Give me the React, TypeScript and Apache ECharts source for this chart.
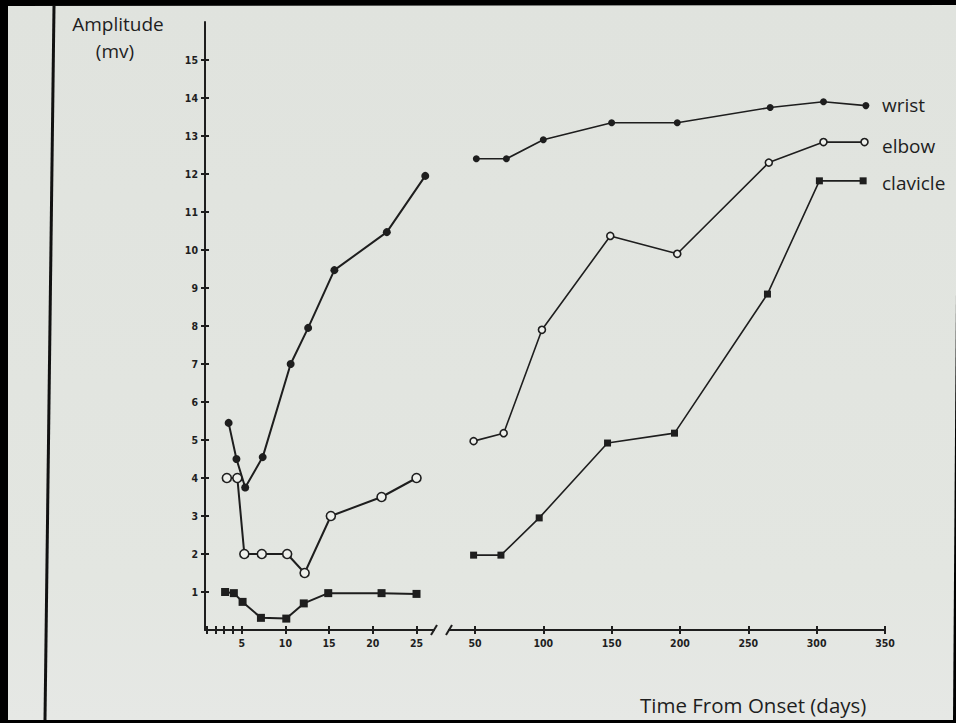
import React, { useEffect, useRef } from "react";
import * as echarts from "echarts";

// ---- Data (days from onset, amplitude in mV) ----
const wristEarlyDays = [3.5, 4.4, 5.4, 7.4, 10.6, 12.6, 15.6, 21.6, 26];
const wristEarly = [5.45, 4.5, 3.75, 4.55, 7.0, 7.95, 9.47, 10.47, 11.95];
const elbowEarlyDays = [3.3, 4.5, 5.3, 7.3, 10.2, 12.2, 15.2, 21, 25];
const elbowEarly = [4.0, 4.0, 2.0, 2.0, 2.0, 1.5, 3.0, 3.5, 4.0];
const clavicleEarlyDays = [3.1, 4.1, 5.1, 7.2, 10.1, 12.1, 14.9, 21, 25];
const clavicleEarly = [1.0, 0.97, 0.74, 0.32, 0.3, 0.7, 0.97, 0.97, 0.95];

const wristLateDays = [51, 73, 100, 150, 198, 266, 305, 336];
const wristLate = [12.4, 12.4, 12.9, 13.35, 13.35, 13.75, 13.9, 13.8];
const elbowLateDays = [49, 71, 99, 149, 198, 265, 305, 335];
const elbowLate = [4.97, 5.18, 7.9, 10.37, 9.9, 12.3, 12.84, 12.84];
const clavicleLateDays = [49, 69, 97, 147, 196, 264, 302, 334];
const clavicleLate = [1.97, 1.97, 2.95, 4.92, 5.18, 8.84, 11.82, 11.82];

const yTickValues = [1, 2, 3, 4, 5, 6, 7, 8, 9, 10, 11, 12, 13, 14, 15];
const earlyTickValues = [1, 2, 3, 4, 5, 10, 15, 20, 25];
const earlyLabelValues = [5, 10, 15, 20, 25];
const lateTickValues = [50, 100, 150, 200, 250, 300, 350];

const seriesNames = ["wrist", "elbow", "clavicle"];
const yTitle = ["Amplitude", "(mv)"];
const xTitle = "Time From Onset (days)";

const INK = "#1e1e1e";
const FONT = "'Open Sans', 'Noto Sans', sans-serif";

const pairs = (xs: number[], ys: number[]) => xs.map((x, i) => [x, ys[i]]);

export default function App() {
  const ref = useRef<HTMLDivElement>(null);

  useEffect(() => {
    if (!ref.current) return;
    const chart = echarts.init(ref.current, null, { renderer: "svg" });

    const axisLabelStyle = {
      color: INK,
      fontSize: 10.5,
      fontWeight: "bold" as const,
      fontFamily: "'DejaVu Sans Condensed', 'Roboto', sans-serif",
    };

    const makeX = (gridIndex: number, min: number, max: number, ticks: number[], labels: number[], inside: boolean) => ({
      type: "value",
      gridIndex,
      min,
      max,
      position: "bottom",
      axisLine: { show: !inside, onZero: false, lineStyle: { color: INK, width: 2 } },
      axisTick: { show: true, inside, length: 4, customValues: ticks, lineStyle: { color: INK, width: 2 } },
      axisLabel: inside ? { show: false } : { ...axisLabelStyle, margin: 7, customValues: labels },
      splitLine: { show: false },
    });

    const makeY = (gridIndex: number, inside: boolean, show: boolean) => ({
      type: "value",
      gridIndex,
      min: 0,
      max: 16,
      show,
      position: "left",
      axisLine: { show: !inside, onZero: false, lineStyle: { color: INK, width: 2 } },
      axisTick: { show: true, inside, length: 4, customValues: yTickValues, lineStyle: { color: INK, width: 2 } },
      axisLabel: inside ? { show: false } : { ...axisLabelStyle, margin: 7, customValues: yTickValues },
      splitLine: { show: false },
    });

    const line = (
      name: string,
      data: number[][],
      grid: number,
      symbol: string,
      size: number,
      hollow: boolean,
      width: number
    ) => ({
      type: "line",
      name,
      xAxisIndex: grid === 0 ? 0 : 2,
      yAxisIndex: grid === 0 ? 0 : 2,
      data,
      symbol,
      symbolSize: size,
      showSymbol: true,
      lineStyle: { color: INK, width },
      itemStyle: hollow
        ? { color: "#eef0ec", borderColor: INK, borderWidth: 1.6 }
        : { color: INK, borderColor: INK, borderWidth: 0 },
      z: 3,
    });

    const slideTop = "#e0e3de";
    const slideBottom = "#e6e8e5";

    const txt = (x: number, y: number, text: string, size: number, align = "left") => ({
      type: "text",
      x,
      y,
      style: { text, fill: INK, font: `${size}px ${FONT}`, verticalAlign: "middle", align, lineHeight: size },
    });

    chart.setOption({
      animation: false,
      backgroundColor: "#000",
      grid: [
        { left: 205, width: 229, top: 22, height: 608 },
        { left: 449, width: 436, top: 22, height: 608 },
      ],
      xAxis: [
        makeX(0, 0.8, 27, earlyTickValues, earlyLabelValues, false),
        makeX(0, 0.8, 27, earlyTickValues, earlyLabelValues, true),
        makeX(1, 31, 350, lateTickValues, lateTickValues, false),
        makeX(1, 31, 350, lateTickValues, lateTickValues, true),
      ],
      yAxis: [makeY(0, false, true), makeY(0, true, true), makeY(1, false, false)],
      series: [
        line(seriesNames[0], pairs(wristEarlyDays, wristEarly), 0, "circle", 8, false, 2),
        line(seriesNames[1], pairs(elbowEarlyDays, elbowEarly), 0, "circle", 9, true, 2),
        line(seriesNames[2], pairs(clavicleEarlyDays, clavicleEarly), 0, "rect", 8, false, 2),
        line(seriesNames[0], pairs(wristLateDays, wristLate), 1, "circle", 7, false, 1.6),
        line(seriesNames[1], pairs(elbowLateDays, elbowLate), 1, "circle", 7, true, 1.6),
        line(seriesNames[2], pairs(clavicleLateDays, clavicleLate), 1, "rect", 7, false, 1.6),
      ],
      graphic: [
        {
          type: "polygon",
          z: -100,
          silent: true,
          shape: { points: [[8, 6], [958, 5], [953, 720], [8, 720]] },
          style: {
            fill: new echarts.graphic.LinearGradient(0, 0, 0, 1, [
              { offset: 0, color: slideTop },
              { offset: 0.8, color: "#e3e6e1" },
              { offset: 1, color: slideBottom },
            ]),
          },
        },
        {
          type: "line",
          z: -50,
          silent: true,
          shape: { x1: 54, y1: 6, x2: 45, y2: 720 },
          style: { stroke: "#111", lineWidth: 3 },
        },
        // axis break marks
        {
          type: "line",
          silent: true,
          shape: { x1: 431, y1: 635, x2: 437, y2: 625 },
          style: { stroke: INK, lineWidth: 2 },
        },
        {
          type: "line",
          silent: true,
          shape: { x1: 446, y1: 635, x2: 452, y2: 625 },
          style: { stroke: INK, lineWidth: 2 },
        },
        txt(118, 24, yTitle[0], 19, "center"),
        txt(115, 51, yTitle[1], 19, "center"),
        txt(640, 705, xTitle, 20.5),
        txt(882, 105, seriesNames[0], 19),
        txt(882, 146, seriesNames[1], 19),
        txt(882, 183, seriesNames[2], 19),
      ],
    });

    return () => chart.dispose();
  }, []);

  return (
    <div
      ref={ref}
      style={{ position: "absolute", left: 0, top: 0, width: 956, height: 723 }}
    />
  );
}
